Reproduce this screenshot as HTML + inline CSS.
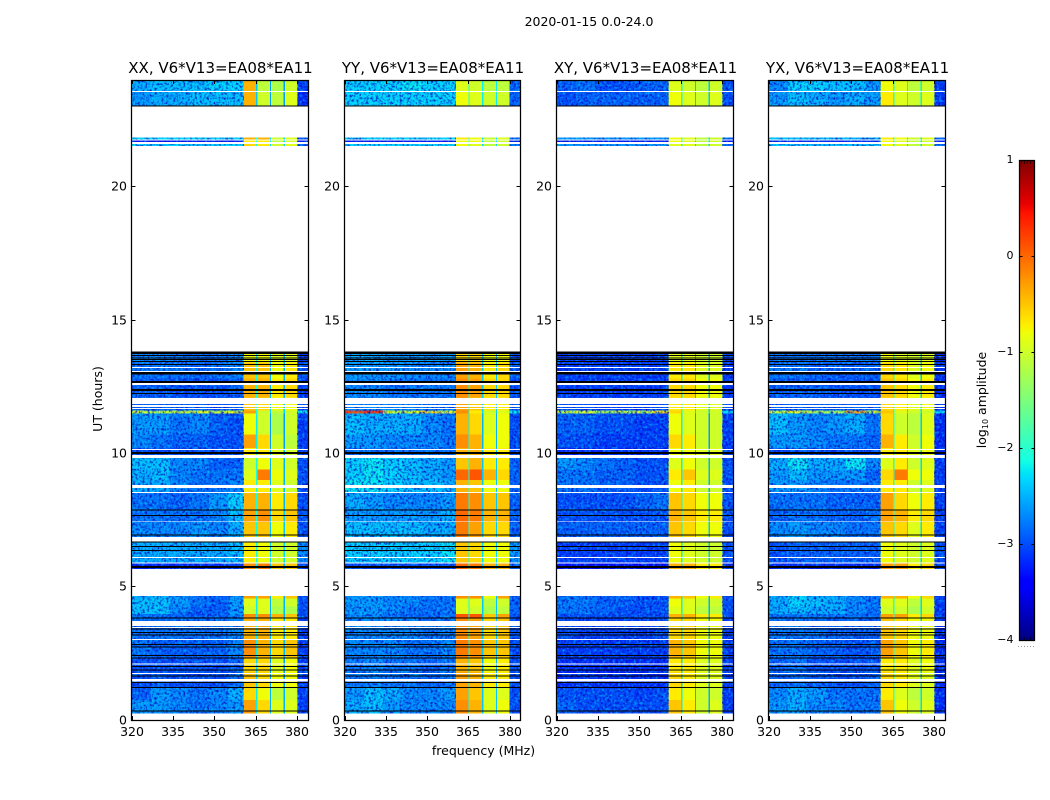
<!DOCTYPE html>
<html><head><meta charset="utf-8"><title>2020-01-15 0.0-24.0</title>
<style>html,body{margin:0;padding:0;background:#fff}svg{display:block}text{font-family:"DejaVu Sans","Liberation Sans",sans-serif;fill:#000}</style>
</head><body>
<svg id="fig" xmlns="http://www.w3.org/2000/svg" width="1050" height="800" viewBox="0 0 1050 800">
<defs>
<filter id="speckleDark" x="0" y="0" width="1" height="1" color-interpolation-filters="sRGB"><feTurbulence type="fractalNoise" baseFrequency="0.42" numOctaves="2" seed="3"/><feColorMatrix values="0 0 0 0 0 0 0 0 0 0.05 0 0 0 0 0.75 3.2 0 0 0 -1.4"/></filter>
<filter id="speckleLight" x="0" y="0" width="1" height="1" color-interpolation-filters="sRGB"><feTurbulence type="fractalNoise" baseFrequency="0.38" numOctaves="2" seed="11"/><feColorMatrix values="0 0 0 0 0 0 0 0 0 0.85 0 0 0 0 1 0 3 0 0 -1.4"/></filter>
</defs>
<text x="589" y="26" font-size="12.5" text-anchor="middle">2020-01-15 0.0-24.0</text>
<text font-size="12.5" text-anchor="middle" transform="translate(102,399) rotate(-90)">UT (hours)</text>
<text x="483.5" y="755" font-size="12.5" text-anchor="middle">frequency (MHz)</text>
<text font-size="12.5" text-anchor="middle" transform="translate(986,400) rotate(-90)">log<tspan font-size="8" dy="2">10</tspan><tspan dy="-2"> amplitude</tspan></text>
<g id="panels"></g>
<g id="colorbar"></g>
<line x1="1018" y1="646.5" x2="1035" y2="646.5" stroke="#999" stroke-width="1" stroke-dasharray="1 2"></line>
</svg>
<script>
// time bands in hours (start, end), one per value row
const bandStart = [0.25,0.75,1.2,1.8,2.3,3.0,3.98,4.25,5.66,5.9,6.85,7.45,7.9,8.55,9.0,9.4,9.9,10.2,10.7,11.5,11.6,12.1,12.8,13.4,21.52,21.67,21.76,23.0,23.55,3.85,4.55];
const bandEnd = [0.75,1.2,1.8,2.3,3.0,3.85,4.25,4.55,5.9,6.7,7.45,7.9,8.55,9.0,9.4,9.85,10.2,10.7,11.5,11.6,12.1,12.8,13.4,13.82,21.6,21.74,21.85,23.55,23.97,3.98,4.65];
// frequency channel-group edges in MHz
const freqEdges = [320,327,334,341,348,355,360.5,365,365.5,370,370.5,375,375.5,380,384];
const xTickValues = [320,335,350,365,380];
const yTickValues = [0,5,10,15,20];
const colorbarTicks = [-4,-3,-2,-1,0,1];
const panelTitles = ["XX, V6*V13=EA08*EA11","YY, V6*V13=EA08*EA11","XY, V6*V13=EA08*EA11","YX, V6*V13=EA08*EA11"];
// flagged (blank) time ranges, hours
const gapStart = [0,1.44,1.725,2.08,3.0,3.45,3.52,4.65,5.87,6.075,6.69,7.43,8.51,8.7,9.83,10.125,11.66,11.74,11.85,12.56,13.05,13.2,13.82,21.6,21.74,21.85,23.55,23.97];
const gapEnd = [0.25,1.54,1.76,2.12,3.04,3.49,3.71,5.66,5.9,6.11,6.86,7.45,8.55,8.81,9.94,10.16,11.7,11.81,12.08,12.64,13.09,13.24,21.52,21.67,21.76,23.0,23.59,24];
// masked (black) integrations, hours
const blackStart = [0.32,1.2,1.4,1.63,1.86,1.99,2.31,2.41,2.72,2.82,3.17,3.27,3.4,3.8,5.7,6.34,6.49,6.65,6.93,7.66,7.86,9.97,12.22,12.34,12.64,12.95,13.32,13.42,13.5,13.57,13.65,13.72,23.0];
const blackEnd = [0.36,1.24,1.42,1.66,1.89,2.02,2.34,2.44,2.75,2.85,3.2,3.3,3.43,3.84,5.77,6.37,6.52,6.69,6.96,7.69,7.89,10.05,12.26,12.41,12.71,13.05,13.35,13.46,13.53,13.6,13.68,13.82,23.05];
// log10 amplitude per band (rows) and frequency group (columns)
const xxValues = [
[-2.6,-2.6,-2.7,-2.8,-2.7,-2.6,-0.3,-2.2,-0.6,-2.5,-0.9,-2.5,-0.9,-3.1],
[-2.9,-2.6,-2.7,-2.8,-2.7,-2.5,-0.6,-2.2,-0.8,-2.5,-1.1,-2.5,-1.0,-3.1],
[-3.0,-2.9,-3.0,-3.0,-3.0,-2.8,-0.5,-2.3,-0.6,-2.6,-0.8,-2.6,-0.8,-3.1],
[-3.0,-3.0,-3.0,-3.0,-3.0,-2.9,-0.6,-2.3,-0.6,-2.6,-0.9,-2.6,-0.8,-3.1],
[-2.8,-2.9,-2.9,-2.9,-2.9,-2.7,-0.2,-2.2,-0.4,-2.5,-0.6,-2.5,-0.5,-3.1],
[-2.8,-2.8,-2.8,-2.8,-2.8,-2.7,-0.4,-2.2,-0.4,-2.5,-0.7,-2.5,-0.7,-3.1],
[-2.4,-2.4,-2.7,-2.9,-2.9,-2.6,-1.0,-2.2,-0.9,-2.5,-1.2,-2.5,-1.2,-3.0],
[-2.4,-2.4,-2.6,-2.8,-2.9,-2.6,-0.9,-2.2,-0.9,-2.5,-1.1,-2.5,-1.0,-3.0],
[-3.2,-3.2,-3.2,-3.2,-3.2,-3.1,-0.2,-2.2,-0.1,-2.5,-0.5,-2.5,-0.5,-3.0],
[-2.5,-2.5,-2.5,-2.5,-2.5,-2.4,-0.7,-2.1,-0.8,-2.3,-1.0,-2.3,-1.0,-2.7],
[-2.7,-2.7,-2.7,-2.6,-2.7,-2.5,-0.5,-2.1,-0.5,-2.4,-0.8,-2.4,-0.7,-3.0],
[-2.8,-2.8,-2.8,-2.8,-2.7,-2.4,-0.3,-2.1,-0.2,-2.4,-0.6,-2.4,-0.5,-3.0],
[-2.8,-2.8,-2.9,-2.8,-2.6,-2.3,-0.4,-2.1,-0.4,-2.5,-0.7,-2.5,-0.6,-3.0],
[-2.5,-2.5,-2.7,-2.8,-2.8,-2.7,-0.7,-2.1,-0.7,-2.5,-0.9,-2.5,-1.0,-3.0],
[-2.5,-2.4,-2.7,-2.8,-2.8,-2.8,-0.9,-2.1,-0.1,-2.5,-0.8,-2.5,-0.9,-3.0],
[-2.4,-2.4,-2.7,-2.7,-2.9,-2.9,-1.0,-2.1,-0.8,-2.5,-0.9,-2.5,-1.0,-3.0],
[-3.0,-3.0,-3.0,-3.0,-3.0,-3.0,-0.7,-2.1,-0.7,-2.5,-0.9,-2.5,-1.0,-3.1],
[-2.7,-2.8,-2.9,-2.9,-3.0,-3.0,-0.3,-2.2,-0.6,-2.6,-1.0,-2.6,-1.1,-3.1],
[-2.6,-2.6,-2.8,-2.7,-2.9,-3.0,-0.8,-2.2,-1.0,-2.6,-1.2,-2.6,-1.0,-3.1],
[-1.0,-1.1,-1.0,-0.9,-1.0,-0.8,-0.3,-2.1,-1.0,-2.3,-1.1,-2.3,-1.0,-2.2],
[-2.9,-2.9,-2.9,-2.9,-3.0,-2.9,-0.5,-2.1,-0.6,-2.4,-0.8,-2.4,-0.8,-3.0],
[-2.9,-2.9,-3.0,-3.0,-3.0,-2.9,-0.4,-2.1,-0.4,-2.5,-0.7,-2.5,-0.6,-3.1],
[-2.8,-2.8,-2.8,-2.9,-2.8,-2.7,-0.5,-2.1,-0.5,-2.5,-0.8,-2.5,-0.7,-3.0],
[-2.7,-2.7,-2.8,-2.8,-2.8,-2.7,-0.8,-2.2,-0.8,-2.4,-0.9,-2.4,-0.9,-3.1],
[-2.3,-2.4,-2.3,-2.4,-2.3,-2.3,-0.6,-2.1,-0.7,-2.3,-1.0,-2.3,-0.9,-2.9],
[-3.3,-3.3,-3.3,-3.3,-3.3,-3.3,-0.7,-2.1,-0.7,-2.3,-1.1,-2.3,-1.0,-3.3],
[-2.3,-2.3,-2.3,-2.3,-2.3,-2.3,-0.4,-2.1,-0.4,-2.3,-1.0,-2.3,-0.9,-3.0],
[-2.6,-2.5,-2.5,-2.4,-2.4,-2.4,-0.4,-2.4,-1.0,-2.6,-1.1,-2.6,-0.9,-3.2],
[-2.5,-2.4,-2.4,-2.4,-2.3,-2.3,-0.4,-2.4,-1.1,-2.6,-1.2,-2.6,-1.0,-3.1],
[-2.8,-2.8,-2.9,-3.0,-2.9,-2.7,-0.2,-2.2,-0.2,-2.5,-0.4,-2.5,-0.5,-3.0],
[-2.5,-2.4,-2.6,-2.8,-2.9,-2.6,-0.3,-2.2,-0.3,-2.5,-0.7,-2.5,-0.5,-3.0]
];
const yyValues = [
[-2.5,-2.4,-2.6,-2.7,-2.7,-2.7,-0.2,-2.1,-0.4,-2.4,-0.9,-2.4,-0.8,-3.0],
[-2.6,-2.4,-2.5,-2.7,-2.7,-2.6,-0.3,-2.1,-0.5,-2.4,-0.9,-2.4,-0.9,-3.0],
[-2.8,-2.7,-2.8,-2.8,-2.9,-2.8,-0.3,-2.2,-0.4,-2.5,-0.7,-2.5,-0.7,-3.0],
[-2.8,-2.7,-2.8,-2.8,-2.9,-2.8,-0.4,-2.2,-0.5,-2.5,-0.8,-2.5,-0.7,-3.0],
[-2.7,-2.7,-2.7,-2.8,-2.8,-2.7,-0.1,-2.1,-0.2,-2.4,-0.5,-2.4,-0.5,-3.0],
[-2.7,-2.7,-2.7,-2.7,-2.8,-2.7,-0.2,-2.1,-0.3,-2.4,-0.6,-2.4,-0.5,-3.0],
[-2.6,-2.6,-2.7,-2.8,-2.8,-2.8,-0.9,-2.1,-1.0,-2.4,-1.2,-2.4,-1.1,-2.9],
[-2.6,-2.6,-2.7,-2.7,-2.8,-2.8,-0.9,-2.1,-0.9,-2.4,-1.1,-2.4,-1.0,-2.9],
[-3.0,-3.0,-3.0,-3.0,-3.0,-3.0,0.0,-2.1,-0.1,-2.4,-0.4,-2.4,-0.4,-2.9],
[-2.3,-2.3,-2.3,-2.3,-2.3,-2.2,-0.5,-2.1,-0.6,-2.3,-0.8,-2.3,-0.8,-2.6],
[-2.4,-2.4,-2.4,-2.4,-2.5,-2.5,-0.1,-2.1,-0.3,-2.4,-0.6,-2.4,-0.6,-2.9],
[-2.6,-2.6,-2.6,-2.6,-2.6,-2.5,0.0,-2.1,-0.1,-2.4,-0.4,-2.4,-0.4,-2.9],
[-2.5,-2.6,-2.7,-2.7,-2.7,-2.6,-0.1,-2.1,-0.2,-2.4,-0.5,-2.4,-0.5,-2.9],
[-2.2,-2.2,-2.3,-2.4,-2.4,-2.5,-0.4,-2.1,-0.5,-2.4,-0.8,-2.4,-0.8,-2.9],
[-2.3,-2.2,-2.3,-2.4,-2.5,-2.6,0.0,-2.1,0.1,-2.4,-0.4,-2.4,-0.6,-2.9],
[-2.3,-2.2,-2.3,-2.4,-2.5,-2.6,-0.5,-2.1,-0.4,-2.4,-0.7,-2.4,-0.7,-2.9],
[-2.8,-2.8,-2.8,-2.8,-2.8,-2.8,-0.4,-2.1,-0.4,-2.4,-0.7,-2.4,-0.7,-3.0],
[-2.6,-2.6,-2.7,-2.7,-2.7,-2.8,-0.2,-2.1,-0.4,-2.5,-0.8,-2.5,-0.8,-3.0],
[-2.4,-2.5,-2.5,-2.5,-2.7,-2.8,-0.4,-2.2,-0.6,-2.5,-0.9,-2.5,-0.8,-3.0],
[0.2,0.3,-0.9,-0.8,-0.6,-0.8,-0.2,-2.1,-0.7,-2.3,-1.0,-2.3,-0.9,-2.2],
[-2.7,-2.7,-2.7,-2.7,-2.8,-2.8,-0.3,-2.1,-0.5,-2.4,-0.7,-2.4,-0.7,-2.9],
[-2.7,-2.7,-2.8,-2.8,-2.8,-2.8,-0.2,-2.1,-0.3,-2.4,-0.6,-2.4,-0.6,-3.0],
[-2.6,-2.6,-2.6,-2.7,-2.7,-2.7,-0.3,-2.1,-0.4,-2.4,-0.7,-2.4,-0.6,-2.9],
[-2.5,-2.5,-2.6,-2.6,-2.6,-2.6,-0.6,-2.2,-0.6,-2.4,-0.8,-2.4,-0.8,-3.0],
[-2.3,-2.3,-2.3,-2.3,-2.3,-2.3,-0.8,-2.1,-0.9,-2.3,-1.1,-2.3,-1.0,-2.8],
[-3.3,-3.3,-3.3,-3.3,-3.3,-3.3,-0.8,-2.1,-0.8,-2.3,-1.1,-2.3,-1.0,-3.3],
[-2.3,-2.3,-2.3,-2.3,-2.3,-2.3,-0.7,-2.1,-0.8,-2.3,-1.0,-2.3,-0.9,-2.8],
[-2.3,-2.3,-2.3,-2.3,-2.3,-2.3,-0.8,-2.0,-0.9,-2.2,-1.0,-2.2,-1.0,-2.9],
[-2.3,-2.3,-2.3,-2.2,-2.3,-2.3,-0.9,-2.0,-1.0,-2.2,-1.1,-2.2,-1.1,-2.9],
[-2.7,-2.7,-2.8,-2.9,-2.9,-2.8,0.1,-2.1,0.1,-2.4,-0.5,-2.4,-0.3,-3.0],
[-2.6,-2.6,-2.7,-2.7,-2.8,-2.8,-0.2,-2.1,-0.2,-2.4,-0.8,-2.4,-0.3,-2.9]
];
const xyValues = [
[-2.9,-3.0,-3.0,-3.0,-3.0,-3.0,-0.5,-2.2,-0.7,-2.5,-1.0,-2.5,-0.9,-3.1],
[-3.0,-3.0,-3.0,-3.0,-3.1,-3.0,-0.7,-2.2,-0.8,-2.5,-1.0,-2.5,-1.0,-3.1],
[-3.2,-3.1,-3.2,-3.2,-3.2,-3.2,-0.6,-2.3,-0.7,-2.6,-0.9,-2.6,-0.9,-3.1],
[-3.2,-3.2,-3.2,-3.2,-3.2,-3.2,-0.7,-2.3,-0.7,-2.6,-0.9,-2.6,-0.9,-3.1],
[-3.1,-3.1,-3.1,-3.1,-3.1,-3.1,-0.4,-2.2,-0.5,-2.5,-0.8,-2.5,-0.8,-3.1],
[-3.0,-3.1,-3.1,-3.1,-3.1,-3.0,-0.6,-2.2,-0.6,-2.5,-0.8,-2.5,-0.8,-3.1],
[-2.8,-2.8,-2.9,-3.0,-3.0,-3.0,-0.9,-2.2,-0.9,-2.5,-1.1,-2.5,-1.1,-3.0],
[-2.8,-2.8,-2.9,-2.9,-3.0,-3.0,-0.8,-2.2,-0.9,-2.5,-1.0,-2.5,-1.0,-3.0],
[-3.4,-3.4,-3.4,-3.4,-3.4,-3.4,-0.4,-2.3,-0.4,-2.5,-0.7,-2.5,-0.7,-3.1],
[-3.1,-3.1,-3.1,-3.1,-3.1,-3.1,-0.8,-2.2,-0.9,-2.4,-1.0,-2.4,-1.0,-3.0],
[-2.9,-2.9,-2.9,-2.9,-2.9,-2.9,-0.5,-2.1,-0.6,-2.4,-0.8,-2.4,-0.8,-3.0],
[-3.0,-3.0,-3.0,-3.0,-3.0,-3.0,-0.4,-2.1,-0.5,-2.4,-0.7,-2.4,-0.7,-3.0],
[-3.0,-3.0,-3.0,-3.0,-2.9,-2.8,-0.5,-2.1,-0.6,-2.4,-0.8,-2.4,-0.8,-3.0],
[-2.8,-2.8,-2.9,-2.9,-3.0,-3.0,-0.8,-2.2,-0.7,-2.5,-1.0,-2.5,-1.0,-3.0],
[-2.8,-2.8,-2.9,-2.9,-3.0,-3.0,-0.7,-2.2,-0.5,-2.5,-0.9,-2.5,-0.9,-3.0],
[-2.6,-2.7,-2.8,-2.9,-3.0,-3.0,-0.9,-2.2,-0.8,-2.5,-1.0,-2.5,-1.0,-3.0],
[-3.2,-3.2,-3.2,-3.2,-3.2,-3.2,-0.8,-2.2,-0.8,-2.5,-0.9,-2.5,-0.9,-3.1],
[-3.0,-3.0,-3.1,-3.1,-3.1,-3.1,-0.6,-2.2,-0.7,-2.6,-1.0,-2.6,-1.0,-3.1],
[-2.9,-2.9,-3.0,-3.0,-3.1,-3.1,-0.8,-2.2,-0.9,-2.6,-1.0,-2.6,-1.0,-3.1],
[-1.0,-0.9,-1.2,-1.1,-1.0,-0.6,-0.6,-2.1,-0.9,-2.3,-1.0,-2.3,-1.0,-2.3],
[-3.0,-3.0,-3.1,-3.1,-3.1,-3.0,-0.7,-2.1,-0.7,-2.4,-0.9,-2.4,-0.9,-3.0],
[-3.1,-3.1,-3.1,-3.1,-3.1,-3.1,-0.6,-2.2,-0.6,-2.5,-0.8,-2.5,-0.8,-3.1],
[-3.1,-3.1,-3.1,-3.1,-3.1,-3.1,-0.7,-2.2,-0.7,-2.5,-0.9,-2.5,-0.9,-3.1],
[-3.1,-3.1,-3.1,-3.1,-3.1,-3.1,-0.9,-2.2,-0.9,-2.5,-1.0,-2.5,-1.0,-3.1],
[-2.6,-2.6,-2.6,-2.6,-2.6,-2.6,-0.9,-2.1,-0.9,-2.3,-1.1,-2.3,-1.0,-2.9],
[-3.3,-3.3,-3.3,-3.3,-3.3,-3.3,-0.8,-2.1,-0.9,-2.3,-1.1,-2.3,-1.0,-3.3],
[-2.6,-2.6,-2.6,-2.6,-2.6,-2.6,-0.8,-2.1,-0.9,-2.3,-1.1,-2.3,-1.0,-2.9],
[-3.0,-2.9,-2.9,-2.9,-2.9,-2.9,-0.8,-2.1,-0.9,-2.4,-1.0,-2.4,-0.9,-3.0],
[-2.9,-2.8,-3.0,-3.0,-2.9,-2.9,-0.9,-2.1,-1.0,-2.4,-1.1,-2.4,-1.0,-3.0],
[-3.0,-3.0,-3.0,-3.0,-3.0,-3.0,-0.4,-2.2,-0.4,-2.5,-0.7,-2.5,-0.7,-3.0],
[-2.8,-2.8,-2.9,-2.9,-3.0,-3.0,-0.4,-2.2,-0.5,-2.5,-0.8,-2.5,-0.7,-3.0]
];
const yxValues = [
[-2.6,-2.5,-2.7,-2.7,-2.8,-2.8,-0.5,-2.1,-0.8,-2.3,-1.0,-2.3,-0.9,-3.2],
[-2.7,-2.5,-2.6,-2.8,-2.8,-2.8,-0.7,-1.9,-0.9,-2.3,-1.1,-2.3,-1.0,-3.2],
[-2.9,-2.8,-2.9,-3.0,-3.0,-2.9,-0.6,-2.1,-0.7,-2.4,-0.9,-2.4,-0.9,-3.2],
[-2.9,-2.8,-3.0,-3.0,-3.0,-3.0,-0.7,-2.1,-0.7,-2.4,-0.9,-2.4,-0.8,-3.2],
[-2.8,-2.8,-2.9,-2.9,-3.0,-2.9,-0.3,-2.0,-0.5,-2.4,-0.8,-2.4,-0.7,-3.2],
[-2.8,-2.8,-2.8,-2.9,-2.9,-2.9,-0.5,-2.0,-0.6,-2.4,-0.8,-2.4,-0.8,-3.2],
[-2.5,-2.4,-2.5,-2.5,-2.7,-2.8,-1.0,-2.0,-1.0,-2.3,-1.2,-2.3,-1.0,-3.1],
[-2.5,-2.3,-2.4,-2.5,-2.7,-2.8,-0.9,-2.0,-0.9,-2.3,-1.1,-2.3,-0.9,-3.1],
[-3.2,-3.2,-3.2,-3.2,-3.2,-3.2,-0.3,-2.1,-0.3,-2.4,-0.7,-2.4,-0.6,-3.1],
[-3.0,-2.9,-2.9,-2.9,-2.9,-2.9,-0.8,-2.0,-0.9,-2.3,-1.0,-2.3,-0.9,-3.0],
[-2.7,-2.6,-2.7,-2.7,-2.8,-2.8,-0.5,-2.0,-0.6,-2.3,-0.9,-2.3,-0.7,-3.1],
[-2.9,-2.8,-2.8,-2.9,-2.9,-2.8,-0.3,-2.0,-0.4,-2.3,-0.7,-2.3,-0.6,-3.1],
[-2.8,-2.8,-2.8,-2.9,-2.9,-2.9,-0.3,-2.0,-0.6,-2.3,-0.8,-2.3,-0.7,-3.1],
[-2.6,-2.6,-2.7,-2.8,-2.8,-2.8,-0.7,-2.0,-0.7,-2.3,-1.0,-2.3,-0.9,-3.1],
[-2.6,-2.4,-2.6,-2.6,-2.6,-2.9,-0.6,-2.0,-0.1,-2.3,-0.8,-2.3,-0.8,-3.1],
[-2.5,-2.2,-2.5,-2.5,-2.2,-2.7,-0.9,-2.0,-0.7,-2.3,-1.0,-2.3,-0.9,-3.1],
[-3.0,-2.9,-3.0,-3.0,-3.0,-3.0,-0.7,-2.0,-0.7,-2.3,-0.9,-2.3,-0.8,-3.2],
[-2.6,-2.6,-2.7,-2.8,-2.8,-2.9,-0.4,-2.0,-0.7,-2.4,-1.0,-2.4,-0.8,-3.2],
[-2.4,-2.6,-2.7,-2.6,-2.5,-2.8,-0.6,-2.0,-1.0,-2.4,-1.1,-2.4,-0.9,-3.2],
[-1.0,-0.8,-1.1,-1.2,-0.3,-1.0,-0.5,-2.0,-0.9,-2.2,-1.0,-2.2,-1.0,-2.3],
[-2.9,-2.9,-2.9,-2.9,-2.9,-2.9,-0.6,-2.0,-0.7,-2.3,-0.9,-2.3,-0.8,-3.1],
[-2.9,-2.9,-2.9,-3.0,-3.0,-3.0,-0.5,-2.0,-0.6,-2.4,-0.8,-2.4,-0.7,-3.2],
[-2.8,-2.8,-2.9,-2.9,-2.9,-2.9,-0.6,-2.0,-0.7,-2.4,-0.9,-2.4,-0.8,-3.1],
[-2.8,-2.8,-2.8,-2.8,-2.8,-2.8,-0.8,-2.1,-0.9,-2.4,-1.0,-2.4,-0.9,-3.2],
[-2.4,-2.4,-2.4,-2.4,-2.4,-2.4,-0.8,-2.1,-0.9,-2.3,-1.1,-2.3,-1.0,-2.9],
[-3.2,-3.2,-3.2,-3.2,-3.2,-3.2,-0.8,-2.1,-0.9,-2.3,-1.1,-2.3,-1.0,-3.2],
[-2.4,-2.4,-2.4,-2.4,-2.4,-2.4,-0.7,-2.1,-0.8,-2.3,-1.0,-2.3,-0.9,-2.9],
[-2.6,-2.4,-2.5,-2.6,-2.5,-2.6,-0.7,-2.0,-0.9,-2.2,-1.0,-2.2,-0.9,-3.1],
[-2.7,-2.3,-2.3,-2.4,-2.4,-2.6,-0.8,-2.0,-0.9,-2.2,-1.1,-2.2,-1.0,-3.1],
[-2.8,-2.8,-2.8,-2.8,-2.8,-2.9,-0.3,-2.0,-0.3,-2.3,-0.7,-2.3,-0.6,-3.1],
[-2.5,-2.3,-2.5,-2.5,-2.7,-2.8,-0.4,-2.0,-0.4,-2.3,-0.8,-2.3,-0.6,-3.1]
];
const panelValues = [xxValues, yyValues, xyValues, yxValues];

const SVGNS = "http://www.w3.org/2000/svg";
const panelsGroup = document.getElementById("panels");
const panelLeft = [131.5,344.5,556.5,768.5];
const panelRight = [308.5,520.5,733.5,945.5];
const plotTop = 80, plotBottom = 720;
const hourMin = 0, hourMax = 24, freqMin = 320, freqMax = 384;
const logMin = -4, logMax = 1;
function yScale(h){ return plotBottom - (h - hourMin) / (hourMax - hourMin) * (plotBottom - plotTop); }
function xScale(p, f){ return panelLeft[p] + (f - freqMin) / (freqMax - freqMin) * (panelRight[p] - panelLeft[p]); }
function jet(v){
  const t = Math.max(0, Math.min(1, (v - logMin) / (logMax - logMin)));
  function seg(pts){
    for (let i = 1; i < pts.length; i++) {
      if (t <= pts[i][0]) {
        const a = pts[i-1], b = pts[i];
        return a[1] + (b[1] - a[1]) * (t - a[0]) / (b[0] - a[0]);
      }
    }
    return pts[pts.length-1][1];
  }
  const r = seg([[0,0],[0.35,0],[0.66,1],[0.89,1],[1,0.5]]);
  const g = seg([[0,0],[0.125,0],[0.375,1],[0.64,1],[0.91,0],[1,0]]);
  const b = seg([[0,0.5],[0.11,1],[0.34,1],[0.65,0],[1,0]]);
  return "rgb(" + Math.round(r*255) + "," + Math.round(g*255) + "," + Math.round(b*255) + ")";
}

panelValues.forEach(function(rows, p){
  const g = document.createElementNS(SVGNS, "g");
  
  
  g.setAttribute("shape-rendering", "crispEdges");
  panelsGroup.appendChild(g);

  rows.forEach(function(row, r){
    row.forEach(function(val, c){
      if (val === null) return;
      const cell = document.createElementNS(SVGNS, "rect");
      
      
      const x0 = xScale(p, freqEdges[c]), x1 = xScale(p, freqEdges[c+1]);
      const y0 = yScale(bandEnd[r]), y1 = yScale(bandStart[r]);
      cell.setAttribute("x", x0);
      cell.setAttribute("y", y0);
      cell.setAttribute("width", x1 - x0);
      cell.setAttribute("height", y1 - y0);
      cell.setAttribute("fill", jet(val));
      g.appendChild(cell);
    });
  });

  [["speckleDark",0.85],["speckleLight",0.55]].forEach(function(s){
    [[320,360.5],[380,384]].forEach(function(range){
      const tex = document.createElementNS(SVGNS, "rect");
      
      
      tex.setAttribute("x", xScale(p, range[0]));
      tex.setAttribute("y", plotTop);
      tex.setAttribute("width", xScale(p, range[1]) - xScale(p, range[0]));
      tex.setAttribute("height", plotBottom - plotTop);
      tex.setAttribute("filter", "url(#" + s[0] + ")");
      tex.setAttribute("opacity", s[1]);
      g.appendChild(tex);
    });
  });

  gapStart.forEach(function(h, i){
    const gap = document.createElementNS(SVGNS, "rect");
    
    
    gap.setAttribute("x", panelLeft[p]);
    gap.setAttribute("y", yScale(gapEnd[i]));
    gap.setAttribute("width", panelRight[p] - panelLeft[p]);
    gap.setAttribute("height", yScale(h) - yScale(gapEnd[i]));
    gap.setAttribute("fill", "#fff");
    g.appendChild(gap);
  });

  blackStart.forEach(function(h, i){
    const line = document.createElementNS(SVGNS, "rect");
    
    
    line.setAttribute("x", panelLeft[p]);
    line.setAttribute("y", yScale(blackEnd[i]));
    line.setAttribute("width", panelRight[p] - panelLeft[p]);
    line.setAttribute("height", Math.max(1, yScale(h) - yScale(blackEnd[i])));
    line.setAttribute("fill", "#000");
    g.appendChild(line);
  });

  xTickValues.forEach(function(f){
    const x = Math.round(xScale(p, f)) + 0.5;
    [[plotBottom, plotBottom - 4],[plotTop, plotTop + 4]].forEach(function(e){
      const t = document.createElementNS(SVGNS, "line");
      
      
      t.setAttribute("x1", x); t.setAttribute("x2", x);
      t.setAttribute("y1", e[0]); t.setAttribute("y2", e[1]);
      t.setAttribute("stroke", "#000");
      g.appendChild(t);
    });
    const lab = document.createElementNS(SVGNS, "text");
    
    
    lab.setAttribute("x", x - 0.5);
    lab.setAttribute("y", 736);
    lab.setAttribute("font-size", "12.5");
    lab.setAttribute("text-anchor", "middle");
    lab.textContent = f;
    g.appendChild(lab);
  });

  yTickValues.forEach(function(h){
    const y = Math.floor(yScale(h)) + 0.5;
    [[panelLeft[p], panelLeft[p] + 4],[panelRight[p], panelRight[p] - 4]].forEach(function(e){
      const t = document.createElementNS(SVGNS, "line");
      
      
      t.setAttribute("x1", e[0]); t.setAttribute("x2", e[1]);
      t.setAttribute("y1", y); t.setAttribute("y2", y);
      t.setAttribute("stroke", "#000");
      g.appendChild(t);
    });
    const lab = document.createElementNS(SVGNS, "text");
    
    
    lab.setAttribute("x", panelLeft[p] - 4.5);
    lab.setAttribute("y", y + 4);
    lab.setAttribute("font-size", "12.5");
    lab.setAttribute("text-anchor", "end");
    lab.textContent = h;
    g.appendChild(lab);
  });

  const frame = document.createElementNS(SVGNS, "rect");
  
  
  frame.setAttribute("x", panelLeft[p]);
  frame.setAttribute("y", plotTop + 0.5);
  frame.setAttribute("width", panelRight[p] - panelLeft[p]);
  frame.setAttribute("height", plotBottom - plotTop);
  frame.setAttribute("fill", "none");
  frame.setAttribute("stroke", "#000");
  frame.setAttribute("stroke-width", "1.25");
  frame.setAttribute("shape-rendering", "geometricPrecision");
  g.appendChild(frame);

  const title = document.createElementNS(SVGNS, "text");
  
  
  title.setAttribute("x", (panelLeft[p] + panelRight[p]) / 2 + 0.5);
  title.setAttribute("y", 73);
  title.setAttribute("font-size", "15");
  title.setAttribute("text-anchor", "middle");
  title.textContent = panelTitles[p];
  g.appendChild(title);
});

// colorbar
const cbar = document.getElementById("colorbar");
const cbLeft = 1019.5, cbRight = 1034.5, cbTop = 160, cbBottom = 640;
function cbY(v){ return cbBottom - (v - logMin) / (logMax - logMin) * (cbBottom - cbTop); }
const cbSteps = 240;
for (let i = 0; i < cbSteps; i++) {
  const v0 = logMin + (logMax - logMin) * i / cbSteps;
  const v1 = logMin + (logMax - logMin) * (i + 1) / cbSteps;
  const s = document.createElementNS(SVGNS, "rect");
  
  
  s.setAttribute("x", cbLeft);
  s.setAttribute("y", cbY(v1));
  s.setAttribute("width", cbRight - cbLeft);
  s.setAttribute("height", cbY(v0) - cbY(v1) + 0.5);
  s.setAttribute("fill", jet((v0 + v1) / 2));
  s.setAttribute("shape-rendering", "crispEdges");
  cbar.appendChild(s);
}
colorbarTicks.forEach(function(v){
  const y = Math.floor(cbY(v)) + 0.5;
  [[cbLeft, cbLeft + 3],[cbRight, cbRight - 3]].forEach(function(e){
    const t = document.createElementNS(SVGNS, "line");
    
    
    t.setAttribute("x1", e[0]); t.setAttribute("x2", e[1]);
    t.setAttribute("y1", y); t.setAttribute("y2", y);
    t.setAttribute("stroke", "#000");
    cbar.appendChild(t);
  });
  const lab = document.createElementNS(SVGNS, "text");
  
  
  lab.setAttribute("x", 1013.5);
  lab.setAttribute("y", y + 2.5);
  lab.setAttribute("font-size", "11");
  lab.setAttribute("text-anchor", "end");
  lab.textContent = String(v).replace("-", "\u2212");
  cbar.appendChild(lab);
});
[[cbTop + 0.5, cbTop + 4],[cbBottom + 0.5, cbBottom - 3]].forEach(function(e){
  const minor = document.createElementNS(SVGNS, "line");
  
  
  minor.setAttribute("x1", cbLeft + 2);
  minor.setAttribute("x2", cbRight - 1);
  minor.setAttribute("y1", e[0]);
  minor.setAttribute("y2", e[1]);
  minor.setAttribute("stroke", "#000");
  minor.setAttribute("stroke-width", "0");
  cbar.appendChild(minor);
  const marks = document.createElementNS(SVGNS, "path");
  
  
  marks.setAttribute("d", "M" + (cbLeft + 2) + " " + e[0] + "V" + e[1] + "M" + (cbLeft + 5) + " " + e[0] + "V" + e[1] + "M" + (cbLeft + 8) + " " + e[0] + "V" + e[1] + "M" + (cbLeft + 11) + " " + e[0] + "V" + e[1]);
  marks.setAttribute("stroke", "#000");
  marks.setAttribute("opacity", "0.6");
  marks.setAttribute("fill", "none");
  cbar.appendChild(marks);
});
const cbFrame = document.createElementNS(SVGNS, "rect");


cbFrame.setAttribute("x", cbLeft);
cbFrame.setAttribute("y", cbTop + 0.5);
cbFrame.setAttribute("width", cbRight - cbLeft);
cbFrame.setAttribute("height", cbBottom - cbTop);
cbFrame.setAttribute("fill", "none");
cbFrame.setAttribute("stroke", "#000");
cbFrame.setAttribute("stroke-width", "1.25");
cbar.appendChild(cbFrame);
</script>
</body></html>
